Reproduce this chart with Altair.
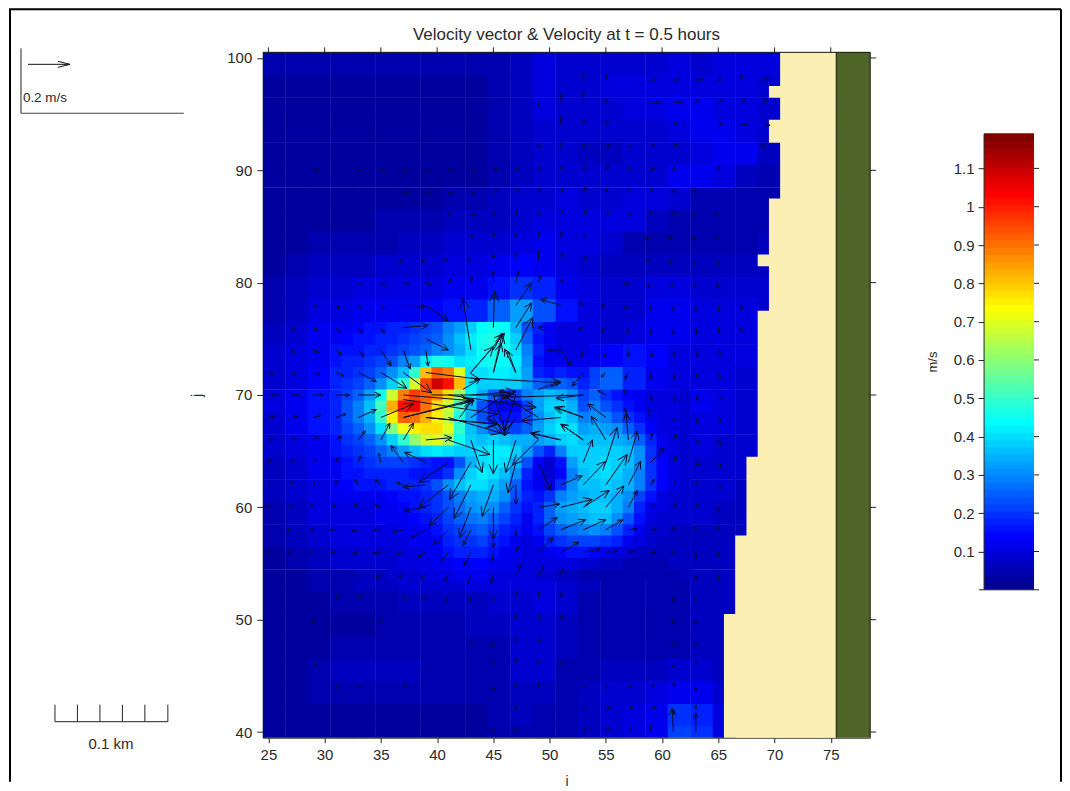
import math
import altair as alt
import pandas as pd

FONT = "Liberation Sans"
TXT = "#2a2a2a"

jet = ["#00008F","#00009F","#0000AF","#0000BF","#0000CF","#0000DF","#0000EF","#0000FF",
"#0010FF","#0020FF","#0030FF","#0040FF","#0050FF","#0060FF","#0070FF","#0080FF",
"#008FFF","#009FFF","#00AFFF","#00BFFF","#00CFFF","#00DFFF","#00EFFF","#00FFFF",
"#10FFEF","#20FFDF","#30FFCF","#40FFBF","#50FFAF","#60FF9F","#70FF8F","#80FF80",
"#8FFF70","#9FFF60","#AFFF50","#BFFF40","#CFFF30","#DFFF20","#EFFF10","#FFFF00",
"#FFEF00","#FFDF00","#FFCF00","#FFBF00","#FFAF00","#FF9F00","#FF8F00","#FF8000",
"#FF7000","#FF6000","#FF5000","#FF4000","#FF3000","#FF2000","#FF1000","#FF0000",
"#EF0000","#DF0000","#CF0000","#BF0000","#AF0000","#9F0000","#8F0000","#800000"]
VMAX = 1.19

# speed on a 2-cell grid, rows from j=99.5 downward, columns from i=25.5 rightward
coarse = [
[.04,.04,.04,.04,.04,.04,.04,.04,.04,.04,.05,.07,.10,.09,.09,.09,.09,.09,.10,.09,.10,.11,.10],
[.03,.03,.03,.03,.03,.03,.03,.03,.03,.03,.05,.07,.10,.09,.09,.10,.10,.10,.10,.10,.10,.11,.09],
[.03,.03,.03,.03,.03,.03,.03,.03,.03,.03,.05,.07,.10,.09,.08,.09,.10,.11,.12,.12,.10,.10,.08],
[.03,.03,.03,.03,.03,.03,.03,.03,.03,.03,.05,.07,.09,.09,.08,.08,.09,.09,.11,.12,.12,.11,.08],
[.03,.03,.03,.03,.03,.03,.03,.03,.03,.03,.04,.07,.08,.08,.07,.07,.08,.08,.09,.11,.13,.12,.07],
[.03,.03,.03,.03,.03,.03,.03,.03,.03,.03,.05,.07,.09,.09,.08,.08,.08,.09,.12,.12,.10,.07,.05],
[.03,.03,.03,.03,.03,.03,.03,.03,.04,.05,.06,.08,.09,.10,.09,.09,.10,.11,.08,.05,.04,.04,.04],
[.03,.03,.03,.03,.03,.04,.04,.05,.06,.06,.07,.09,.10,.11,.10,.11,.10,.06,.05,.04,.04,.04,.04],
[.03,.03,.04,.05,.05,.05,.06,.07,.08,.09,.09,.11,.12,.10,.10,.09,.05,.05,.05,.05,.05,.05,.06],
[.03,.04,.06,.07,.07,.08,.09,.09,.10,.11,.12,.14,.13,.10,.08,.06,.06,.07,.07,.07,.07,.07,.07],
[.04,.06,.08,.09,.10,.11,.11,.11,.12,.13,.15,.20,.17,.13,.10,.08,.08,.10,.10,.09,.09,.09,.09],
[.05,.07,.10,.11,.12,.12,.13,.14,.15,.18,.26,.32,.24,.16,.11,.09,.09,.12,.12,.10,.10,.10,.08],
[.06,.09,.12,.13,.14,.15,.17,.18,.19,.26,.38,.44,.34,.17,.10,.09,.11,.13,.12,.10,.10,.10,.08],
[.08,.10,.13,.15,.17,.20,.22,.25,.30,.40,.45,.45,.38,.13,.12,.14,.16,.14,.11,.10,.10,.10,.08],
[.09,.11,.14,.17,.20,.25,.38,.58,.95,.85,.40,.33,.35,.28,.22,.25,.18,.13,.11,.10,.10,.09,.07],
[.10,.12,.15,.18,.24,.40,.80,.90,.75,.45,.30,.15,.18,.35,.36,.33,.24,.17,.14,.12,.10,.09,.07],
[.09,.12,.15,.17,.22,.35,.60,.75,.65,.40,.32,.25,.28,.33,.28,.33,.32,.22,.14,.11,.10,.08,.07],
[.08,.11,.13,.15,.17,.20,.25,.22,.15,.30,.42,.38,.30,.12,.15,.30,.37,.30,.16,.10,.09,.08,.07],
[.07,.09,.12,.13,.14,.15,.16,.18,.25,.35,.38,.30,.18,.09,.18,.28,.35,.30,.15,.09,.08,.08,.07],
[.06,.08,.11,.12,.12,.13,.14,.16,.22,.30,.34,.25,.14,.17,.30,.35,.30,.20,.10,.08,.08,.07,.07],
[.05,.07,.10,.11,.11,.12,.13,.15,.18,.24,.27,.20,.14,.24,.34,.32,.25,.15,.09,.08,.07,.07,.06],
[.04,.06,.08,.10,.10,.10,.11,.13,.15,.18,.20,.16,.12,.16,.25,.24,.16,.11,.08,.07,.07,.06,.06],
[.03,.04,.06,.08,.09,.09,.10,.11,.12,.13,.14,.13,.11,.11,.14,.13,.10,.08,.06,.06,.06,.06,.05],
[.03,.03,.04,.05,.06,.07,.08,.08,.09,.10,.10,.10,.10,.09,.07,.05,.04,.04,.05,.06,.06,.05,.05],
[.03,.03,.03,.04,.04,.05,.06,.06,.07,.07,.08,.09,.10,.08,.05,.04,.04,.04,.05,.07,.07,.05,.05],
[.03,.03,.03,.03,.03,.04,.04,.05,.05,.06,.07,.09,.09,.07,.05,.04,.04,.04,.05,.07,.07,.05,.05],
[.03,.03,.03,.04,.05,.05,.05,.05,.04,.04,.05,.08,.09,.06,.05,.04,.04,.05,.05,.07,.07],
[.03,.03,.05,.06,.07,.07,.06,.05,.04,.04,.05,.08,.08,.05,.05,.06,.06,.07,.08,.08,.07],
[.03,.03,.04,.05,.05,.05,.05,.04,.04,.04,.05,.07,.07,.05,.06,.08,.09,.10,.13,.12,.09],
[.03,.03,.03,.03,.03,.03,.03,.03,.03,.03,.05,.06,.05,.05,.07,.08,.10,.13,.19,.18,.10],
[.03,.03,.03,.03,.03,.03,.03,.03,.03,.03,.04,.04,.04,.04,.07,.08,.10,.13,.22,.19,.10],
]

# finer reading around the jet: rows j=76..62, columns i=32..53
fine = [
[.13,.14,.15,.16,.17,.18,.20,.22,.24,.28,.32,.38,.44,.46,.44,.35,.24,.17,.13,.11,.10,.10],
[.14,.15,.16,.17,.18,.20,.22,.24,.26,.30,.36,.42,.45,.48,.45,.38,.26,.16,.13,.11,.10,.10],
[.15,.16,.17,.18,.20,.22,.24,.26,.28,.30,.34,.40,.45,.46,.45,.40,.28,.17,.12,.11,.10,.10],
[.17,.18,.20,.22,.24,.28,.32,.42,.48,.46,.40,.42,.44,.45,.44,.42,.30,.15,.12,.12,.12,.13],
[.18,.20,.22,.26,.30,.36,.50,.80,.92,.88,.70,.40,.40,.42,.42,.40,.32,.18,.16,.18,.16,.15],
[.20,.22,.26,.30,.38,.50,.68,.95,1.08,1.02,.80,.42,.38,.38,.38,.38,.32,.25,.24,.26,.24,.18],
[.22,.25,.32,.45,.68,.88,.95,.92,.86,.78,.62,.42,.34,.26,.20,.22,.28,.32,.36,.35,.30,.22],
[.24,.28,.36,.52,.82,1.02,1.05,.90,.78,.68,.52,.36,.24,.15,.13,.14,.22,.32,.38,.38,.34,.24],
[.24,.28,.34,.50,.75,.92,.90,.82,.76,.66,.48,.34,.24,.18,.15,.16,.22,.30,.36,.40,.36,.28],
[.22,.25,.30,.40,.58,.72,.76,.78,.78,.70,.50,.36,.30,.25,.22,.22,.26,.32,.38,.42,.40,.32],
[.20,.22,.26,.30,.38,.50,.60,.68,.70,.62,.46,.38,.36,.38,.36,.34,.34,.32,.34,.38,.40,.36],
[.18,.20,.22,.25,.28,.32,.36,.40,.42,.40,.38,.38,.40,.42,.42,.38,.32,.24,.18,.28,.38,.38],
[.16,.18,.20,.21,.22,.22,.20,.17,.15,.16,.24,.34,.40,.42,.40,.34,.24,.14,.09,.16,.32,.38],
[.15,.16,.17,.18,.18,.18,.16,.15,.16,.20,.30,.38,.42,.40,.36,.30,.18,.12,.08,.14,.28,.36],
[.14,.15,.15,.16,.17,.17,.18,.20,.24,.30,.36,.40,.40,.36,.32,.26,.16,.13,.12,.20,.30,.36],
]

# finer reading south of the jet: rows j=61..54, columns i=36..62
south = [
[.14,.15,.16,.18,.20,.24,.28,.32,.34,.34,.30,.24,.18,.15,.20,.28,.32,.34,.36,.36,.34,.30,.22,.15,.11,.09,.08],
[.13,.14,.15,.17,.19,.23,.27,.30,.32,.30,.25,.20,.15,.18,.26,.32,.34,.36,.38,.38,.34,.28,.18,.13,.10,.09,.08],
[.12,.13,.14,.16,.18,.21,.25,.27,.29,.26,.21,.17,.13,.18,.26,.30,.32,.34,.36,.36,.30,.24,.15,.11,.09,.08,.08],
[.11,.12,.13,.14,.16,.19,.22,.24,.25,.22,.18,.15,.12,.15,.22,.26,.27,.29,.30,.28,.24,.18,.12,.09,.08,.07,.07],
[.10,.11,.12,.13,.14,.17,.19,.20,.21,.18,.15,.13,.11,.13,.17,.20,.21,.22,.22,.20,.17,.13,.10,.08,.07,.07,.07],
[.09,.10,.11,.12,.13,.15,.17,.17,.17,.15,.13,.12,.10,.11,.13,.14,.15,.15,.14,.13,.11,.09,.07,.06,.06,.06,.06],
[.09,.10,.10,.11,.12,.13,.14,.14,.14,.13,.12,.11,.10,.10,.10,.10,.10,.09,.08,.07,.06,.05,.05,.05,.05,.06,.06],
[.08,.09,.09,.10,.10,.11,.12,.12,.12,.11,.11,.10,.10,.09,.08,.07,.06,.05,.05,.04,.04,.04,.04,.04,.05,.05,.06],
]

# finer reading of the east lobe: rows j=70..62, columns i=54..62
east = [
[.25,.20,.16,.14,.12,.11,.10,.10,.09],
[.28,.24,.20,.16,.13,.11,.10,.10,.09],
[.30,.28,.24,.20,.15,.12,.10,.10,.09],
[.34,.32,.30,.26,.20,.14,.11,.10,.09],
[.36,.36,.35,.32,.26,.17,.12,.10,.09],
[.38,.38,.38,.36,.30,.20,.13,.10,.09],
[.38,.40,.38,.36,.30,.20,.14,.10,.09],
[.38,.40,.38,.35,.28,.20,.14,.10,.09],
[.36,.38,.36,.34,.28,.20,.14,.10,.08],
]

# shoreline: j top, j bottom, i of the water/land edge
shore_top = [100.5, 97.5, 96.5, 94.5, 92.5, 87.5, 82.5, 81.5, 77.5, 64.5, 57.5, 50.5]
shore_bot = [97.5, 96.5, 94.5, 92.5, 87.5, 82.5, 81.5, 77.5, 64.5, 57.5, 50.5, 39.5]
shore_i = [70.5, 69.5, 70.5, 69.5, 70.5, 69.5, 68.5, 69.5, 68.5, 67.5, 66.5, 65.5]

# large vectors: tail i, tail j, head i, head j
big = [
(43,74,42.3,78.6),(45,76,45.1,79.2),(47,78,48.4,80),(47,76,48.4,78.2),(47,74,48.5,76.9),
(45,72,45.8,75.5),(43,72,46,75.5),(47,72,46,74.1),(45,74,45.8,75.5),(33,70,35,70),
(39,72,43.8,71.4),(43,71.5,51,71.1),(37,70,43,69.5),(39.5,70,46.6,70),(53,70,50.6,69.7),
(53,70,46,69.8),(41,70,48.8,68.9),(37,68,43.2,69.6),(37,69.6,45.4,68.3),(39,68,45.2,67.4),
(51,68,47.5,67.7),(41,68,45.7,66.6),(42,68,43.2,69.6),(42.3,70.5,43.8,71.4),(43,72,45,74.3),
(47,72,46.3,73.9),(45,72,45.7,74.6),(49,70.5,51,71.2),(53,68,50.6,68.9),(53,66,51,67.4),
(51,66,48.3,66.6),(49,66,46.7,63.8),(45,68,46,66.4),(47,68,46,66.4),(45,70,46,66.8),(47,70,46,66.8),
(49,68,45.8,70),(43,68,46,70),(47,70,45.5,70.4),(43,70,47,70.3),
(39,66,41.3,66.2),(41,66,44.7,64.7),(43,66,44,63.1),(45,66,45,63),(47,66,46.1,63.1),
(51,66,48.4,66.6),(53,68,50.4,68.9),(55,66,53.7,68.1),(53,66,51,67.4),(53,64,53.8,66),
(55,64,56,67.1),(57,66,56.8,68.4),(57,64,57.8,66.8),(53,62,55,64.1),(55,62,56.9,64.7),
(57,62,58.1,64.1),(51,62,52.9,62.8),(49,64,50.1,61.5),(47,64,46.3,61.3),(41,64,38.4,62.2),
(39,62,37,61.8),(39,64,37.1,64.9),(37,64,35.9,65.5),(43,64,41.1,60.7),(41,62,38.4,60),
(43,62,41.5,59),(45,62,44,59.2),(47,62,47,60.3),(49,60,50.9,60.3),(51,60,53.8,60.7),
(53,60,55.3,61.5),(55,60,56.6,61.9),(57,60,57.8,61.5),(49,58,50.7,59.1),(51,58,53.2,58.9),
(53,58,55,58.9),(55,58,56.5,58.9),(41,60,39.3,58.4),(39,60,37.1,59.7),(43,60,42,57.3),
(45,60,45,57.2),(35,72,37.3,70.6),(37,72,39.5,70.2),(33,72,34.6,71.2),(33,68,34.6,68.7),
(35,66,35.8,67.5),(37,66,37.9,67.5),(35,74,35.9,72.6),(37,74,37.6,72.3),(39,74,39.2,72.6),
(35,68,37.9,69.2),(37,68,43.3,69.5),(39,68,45.4,67.4),(51,74,49.9,74),(51,74,51.9,72.6),
(53,72,52,70.8),(39,78,41,76.6),(37,78,39,77.9),(37,76,39.2,76.2),(39,75,41,74),
(51,76,49,76),(51,78,49.2,78.5),(55,68,53.4,69.2),(59,64,60.2,65.3),(41,58,39.7,56.7),
(43,58,42.3,56.6),(45,58,45,56.4),(39,58,37.7,57.3),(43,56,42.4,54.8),(49,56,50.3,57.3),
(51,56,52.6,56.9),(53,56,54.5,56.3),(55,56,56,56.1),
]

# small vectors by row: j -> (i, u, v)
small_rows = {
98: [(53,0,.6),(55,.1,.5),(59,.5,.1),(61,.5,.1),(63,.6,.1),(65,.3,.1),(67,.1,.5),(69,.5,.2)],
96: [(49,0,-.3),(51,0,.8),(53,0,1),(55,.1,.3),(59,.8,0),(61,.8,.1),(63,.2,.3),(65,.4,.3),(67,.4,.3),(69,.3,.3)],
94: [(51,0,.8),(53,.1,.5),(55,.2,.4),(61,.3,.3),(65,.4,.2),(67,.6,.1),(69,.6,0)],
92: [(49,.1,.3),(51,.1,.5),(53,.2,.3),(55,.3,.3),(57,.3,.2),(59,.3,.3),(61,.4,.4),(69,0,.3)],
90: [(29,.4,0),(33,.3,0),(35,.4,0),(37,.4,0),(39,.3,0),(41,.4,0),(43,.3,0),(45,.4,.1),(47,.2,.2),(49,.2,.3),(51,.2,.3),(53,.2,.3),(55,.2,.4),(57,.1,.3),(59,.3,.2),(61,.1,.3),(65,.1,.3)],
88: [(37,.5,.1),(39,.4,.1),(41,.4,0),(43,.4,.1),(45,.3,.2),(47,.2,.3),(49,.1,.4),(51,.2,.4),(53,.2,.5),(55,.1,.4),(57,.1,.3),(59,.1,.4),(61,.1,.3),(63,-.2,.2)],
86: [(41,.3,.1),(43,.4,.1),(45,.2,.3),(47,.1,.4),(49,.1,.4),(51,.2,.5),(53,.3,.4),(55,.3,.3),(57,.3,.1),(59,0,.4),(61,.1,.3),(63,-.2,.2),(65,-.3,.1)],
84: [(43,.2,.3),(45,.1,.4),(47,0,.4),(49,.1,.5),(51,.1,.5),(53,.2,.3),(59,-.6,-.1),(61,-.5,0),(63,-.4,-.1),(65,-.3,-.1)],
82: [(37,-.4,-.1),(39,-.4,-.1),(41,-.4,0),(43,-.3,.1),(45,0,.5),(47,0,.6),(49,0,.9),(51,.2,.6),(53,.3,.3),(59,-.4,-.1),(61,-.4,-.2),(63,-.2,-.4),(65,-.1,-.4)],
80: [(33,.3,-.2),(35,.4,-.2),(37,.5,-.1),(39,.4,-.2),(41,.3,.3),(43,.1,.5),(45,0,1),(47,.2,1),(49,.2,.6),(51,.2,.3),(57,-.3,-.2),(59,-.3,-.4),(61,-.2,-.5),(63,-.1,-.5),(65,-.1,-.5)],
78: [(29,.3,-.2),(31,.3,-.3),(33,.3,-.3),(35,.3,-.3),(53,-.4,.2),(55,-.4,-.1),(57,-.3,-.3),(59,-.1,-.5),(61,0,-.5),(63,0,-.6),(65,.1,-.6),(67,.1,-.4)],
76: [(27,.4,-.2),(29,.4,-.3),(31,.4,-.4),(33,.3,-.5),(35,.3,-.5),(53,-.4,-.2),(55,-.3,-.4),(57,-.1,-.5),(59,0,-.6),(61,0,-.6),(63,.1,-.6),(65,.1,-.5),(67,.1,-.4)],
74: [(27,.4,-.2),(29,.5,-.2),(31,.5,-.4),(33,.5,-.6),(53,-.2,-.7),(55,-.1,-.6),(57,0,-.6),(59,.1,-.6),(61,.1,-.6),(63,.2,-.6),(65,.2,-.5)],
72: [(25,.5,-.1),(27,.5,-.1),(29,.6,-.2),(31,.7,-.3),(55,-.4,-.4),(57,-.3,-.6),(59,0,-.6),(61,.1,-.6),(63,.2,-.5),(65,.2,-.5)],
70: [(25,.8,0),(27,.8,0),(29,.9,0),(31,1.2,0),(55,-.7,.4),(57,-.4,.4),(59,.1,-.5),(61,.2,-.6),(63,.2,-.5),(65,.3,-.4)],
68: [(25,.5,.1),(27,.6,.1),(29,.7,.2),(31,.9,.3),(57,-.3,.8),(59,-.2,.7),(61,.1,-.3),(63,.2,-.5),(65,.2,-.4)],
66: [(25,.4,.1),(27,.4,.2),(29,.4,.3),(31,.5,.3),(33,.6,.8),(59,.1,.6),(61,.3,.5),(63,.3,-.3),(65,.2,-.4)],
64: [(25,.2,.2),(27,.3,.3),(29,.3,.3),(31,.2,.4),(33,.2,.6),(35,-.2,.8),(61,.3,.5),(63,.3,-.2),(65,.2,-.4)],
62: [(25,.1,.2),(27,.1,.3),(29,.1,.3),(31,0,.4),(33,-.3,.5),(35,-.5,.5),(37,-.6,.2),(59,.3,.5),(61,.2,.3),(63,.1,.3),(65,.2,-.3)],
60: [(25,-.1,.2),(27,-.1,.2),(29,-.2,.3),(31,-.3,.2),(33,-.4,.3),(35,-.5,.2),(59,.3,.2),(61,.3,.3),(63,.2,.3),(65,.1,-.3)],
58: [(27,-.3,0),(29,-.3,0),(31,-.5,0),(33,-.6,-.1),(35,-.7,0),(37,-.9,-.2),(47,0,-.5),(57,.7,.1),(59,.5,.1),(61,.1,.3),(63,0,.3),(65,0,.3)],
56: [(25,-.2,0),(27,-.2,0),(29,-.3,0),(31,-.4,0),(33,-.5,-.1),(35,-.6,-.1),(37,-.6,-.2),(39,-.7,-.4),(41,-.6,-.8),(45,-.1,-.8),(47,.2,.5),(57,.5,.1),(59,.4,0),(61,.1,-.1),(63,0,-.5),(65,0,-.4)],
54: [(33,-.3,-.1),(35,-.4,-.2),(37,-.4,-.2),(39,-.4,-.4),(41,-.3,-.5),(43,-.3,-.8),(45,-.2,-.8),(47,.5,.9),(49,.5,.7),(51,.2,.5),(63,0,-.4),(65,0,-.4)],
52: [(31,.3,0),(33,.3,0),(37,.3,-.1),(39,-.3,-.2),(41,-.2,-.4),(43,-.1,-.4),(45,0,-.3),(47,.1,.6),(49,.1,.5),(51,.1,.4),(61,0,-.4),(63,0,-.4)],
50: [(29,0,-.3),(35,.1,-.2),(47,0,.4),(49,.1,.5),(51,.1,.4),(61,0,-.3),(63,0,-.4)],
48: [(43,.2,-.1),(45,0,-.3),(47,0,.4),(49,.2,.3),(61,.1,-.3),(63,0,-.3)],
46: [(29,.3,0),(45,0,.3),(47,0,.6),(49,0,.4),(51,.1,.3),(61,0,-.3),(63,0,.3)],
44: [(31,.3,0),(33,.3,0),(37,.3,0),(45,0,-.3),(47,0,.3),(49,.1,.3),(53,.2,0),(55,.2,0),(57,.3,.1),(59,.3,.2),(61,.1,.4),(63,0,-.3)],
42: [(47,0,.3),(53,.3,.2),(55,.4,.2),(57,.4,.3),(59,.5,.3),(61,.1,-.4),(63,0,.4)],
40: [(45,0,.3),(47,0,.4),(53,.2,.3),(55,.3,.4),(57,.3,.4),(59,0,.7),(61,-.1,2.1),(63,0,1.7)],
}

x_ticks = [25,30,35,40,45,50,55,60,65,70,75]
y_ticks = [40,50,60,70,80,90,100]
cb_ticks = [.1,.2,.3,.4,.5,.6,.7,.8,.9,1,1.1]

# ---- tables built from the lists above
SEAM = .04  # cells overlap by a hair so that no white seam shows between them
def grid(rows, i0, j0, size):
    out = []
    for r, row in enumerate(rows):
        for c, v in enumerate(row):
            cx, cy = i0 + size*c, j0 - size*r
            out.append(dict(x0=cx-size/2, x1=cx+size/2+SEAM, y0=cy-size/2-SEAM, y1=cy+size/2, v=v))
    return out
land = pd.DataFrame(dict(x0=shore_i, x1=[75.5]*len(shore_i), y0=[b-SEAM for b in shore_bot], y1=shore_top))

segs = []
def arrow(i0, j0, i1, j1):
    segs.append(dict(x0=i0, y0=j0, x1=i1, y1=j1))
    u, v = i1-i0, j1-j0
    L = math.hypot(u, v)
    if L == 0:
        return
    a = math.atan2(v, u)
    b = max(min(L*.3, 1.0), .28)
    for d in (2.7, -2.7):
        segs.append(dict(x0=i1, y0=j1, x1=i1+b*math.cos(a+d), y1=j1+b*math.sin(a+d)))
for t in big:
    arrow(*t)
for j, row in small_rows.items():
    for i, u, v in row:
        arrow(i, j, i+u, j+v)

xs = alt.Scale(domain=[24.5, 78.5], nice=False, zero=False)
ys = alt.Scale(domain=[39.5, 100.5], nice=False, zero=False)
cs = alt.Scale(type="quantize", domain=[0, VMAX], range=jet)
W, H = 608, 686

def heat(rows):
    return alt.Chart(pd.DataFrame(rows)).mark_rect(clip=True).encode(
        x=alt.X("x0:Q", scale=xs, axis=alt.Axis(values=x_ticks, format="d", title="i", titleY=37, tickSize=5)),
        x2="x1:Q",
        y=alt.Y("y0:Q", scale=ys, axis=alt.Axis(values=y_ticks, format="d", title="j", titleX=-58, tickSize=6)),
        y2="y1:Q",
        color=alt.Color("v:Q", scale=cs, legend=None),
    )

land_m = alt.Chart(land).mark_rect(color="#FBEFB4", clip=True).encode(
    x=alt.X("x0:Q", scale=xs), x2="x1:Q", y=alt.Y("y0:Q", scale=ys), y2="y1:Q")
olive = alt.Chart(pd.DataFrame(dict(x0=[75.5], x1=[78.5], y0=[39.5], y1=[100.5]))).mark_rect(color="#4F6427").encode(
    x=alt.X("x0:Q", scale=xs), x2="x1:Q", y=alt.Y("y0:Q", scale=ys), y2="y1:Q")
sep = alt.Chart(pd.DataFrame(dict(x0=[75.5], y0=[39.5], y1=[100.5]))).mark_rule(color="#2c3a20", strokeWidth=1.5).encode(
    x=alt.X("x0:Q", scale=xs), y=alt.Y("y0:Q", scale=ys), y2="y1:Q")
vec = alt.Chart(pd.DataFrame(segs)).mark_rule(color="#0b0b28", strokeWidth=1, clip=True).encode(
    x=alt.X("x0:Q", scale=xs), x2="x1:Q", y=alt.Y("y0:Q", scale=ys), y2="y1:Q")

top_t = alt.Chart(pd.DataFrame(dict(t=x_ticks))).mark_rule(color="#222").encode(
    x=alt.X("t:Q", scale=xs), y=alt.value(-5), y2=alt.value(0))
right_t = alt.Chart(pd.DataFrame(dict(t=y_ticks))).mark_rule(color="#222").encode(
    y=alt.Y("t:Q", scale=ys), x=alt.value(W), x2=alt.value(W+6))

D = pd.DataFrame(dict(a=[0]))
def line(x, y, x2, y2, c="#111", w=1.0):
    return alt.Chart(D).mark_rule(color=c, strokeWidth=w).encode(
        x=alt.value(x), y=alt.value(y), x2=alt.value(x2), y2=alt.value(y2))
def label(s, x, y, size=15, angle=0):
    return alt.Chart(D).mark_text(text=s, font=FONT, fontSize=size, color=TXT, angle=angle,
                                  align="center", baseline="middle").encode(x=alt.value(x), y=alt.value(y))

OX, OY = 262, 52   # plot origin on the page
BOTTOM = 782
RIGHT = 1061       # the page keeps an 8px margin on the right as well
deco = [
    line(W, 0, W, H), line(0, 0, W, 0),
    # outer frame
    line(9-OX, 9-OY, 9-OX, BOTTOM-OY, "#000", 2), line(8-OX, 9-OY, RIGHT-OX, 9-OY, "#000", 2),
    line(RIGHT-OX, 9-OY, RIGHT-OX, BOTTOM-OY, "#000", 2),
    # speed key
    line(20-OX, 48-OY, 20-OX, 113-OY, "#222"), line(20-OX, 113-OY, 183-OX, 113-OY, "#444", 1.2),
    line(27-OX, 64-OY, 69-OX, 64-OY, "#111"), line(69-OX, 64-OY, 57-OX, 61-OY, "#111"), line(69-OX, 64-OY, 57-OX, 67-OY, "#111"),
    label("0.2 m/s", 44-OX, 98-OY, 13.5),
    # distance key
    line(54-OX, 722-OY, 167-OX, 722-OY, "#222"),
    label("0.1 km", 110-OX, 744-OY, 15),
    label("Velocity vector & Velocity at t = 0.5 hours", 566-OX, 35-OY, 17),
]
for px in [54, 76.5, 99, 121.5, 144, 167]:
    deco.append(line(px-OX, 705-OY, px-OX, 722-OY, "#222"))

main = alt.layer(heat(grid(coarse, 25.5, 99.5, 2)), heat(grid(fine, 32, 76, 1)),
                 heat(grid(south, 36, 61, 1)), heat(grid(east, 54, 70, 1)),
                 land_m, olive, sep, vec, top_t, right_t, *deco).properties(width=W, height=H)

# ---- colour bar panel
step = VMAX/len(jet)
cb = pd.DataFrame(dict(y0=[k*step for k in range(len(jet))], y1=[(k+1)*step+.002 for k in range(len(jet))], v=[(k+.5)*step for k in range(len(jet))]))
cby = alt.Scale(domain=[-0.386, 1.403], nice=False, zero=False)
bar = alt.Chart(cb).mark_rect().encode(
    x=alt.value(0), x2=alt.value(50),
    y=alt.Y("y0:Q", scale=cby, axis=alt.Axis(values=cb_ticks, format=".1~f", title=None, domain=False, labelPadding=4)),
    y2="y1:Q",
    color=alt.Color("v:Q", scale=cs, legend=None))
cb_r = alt.Chart(pd.DataFrame(dict(t=cb_ticks))).mark_rule(color="#222").encode(
    y=alt.Y("t:Q", scale=cby), x=alt.value(50), x2=alt.value(55))
cb_b = alt.Chart(pd.DataFrame(dict(t=[0]))).mark_rule(color="#222").encode(
    y=alt.Y("t:Q", scale=cby), x=alt.value(-5), x2=alt.value(55))
cb_l = alt.Chart(pd.DataFrame(dict(a=[0], b=[VMAX]))).mark_rule(color="#222").encode(
    y=alt.Y("a:Q", scale=cby), y2="b:Q", x=alt.value(0))
cbar = alt.layer(bar, cb_r, cb_b, cb_l, label("m/s", 932-983, 362-52, 13, 270)).properties(width=50, height=H)

chart = alt.hconcat(main, cbar, spacing=114, bounds="flush",
                    padding={"left": 0, "top": 0, "right": 0, "bottom": 0},
                    background="white").configure_view(stroke=None).configure_axis(
    grid=False, domainColor="#222", tickColor="#222", tickSize=6, labelFont=FONT, labelFontSize=15,
    labelColor=TXT, titleFont=FONT, titleFontSize=14, titleColor=TXT, titleFontWeight="normal", labelPadding=5,
)
chart.save("out.html", embed_options={"renderer": "svg", "actions": False})
